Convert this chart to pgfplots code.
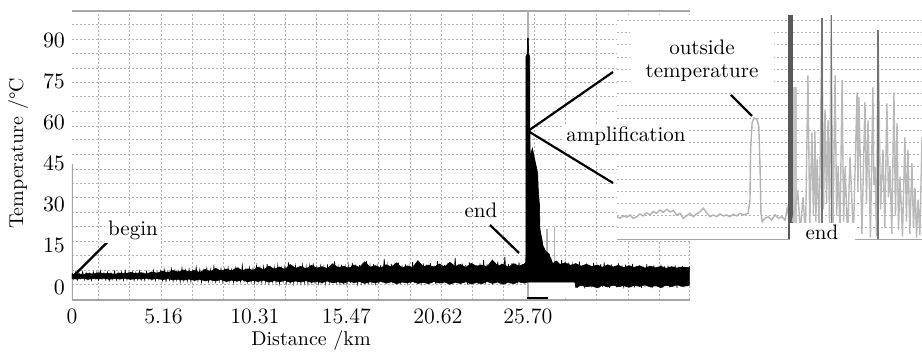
\documentclass[border=0pt]{standalone}
\usepackage{pgfplots}
\pgfplotsset{compat=1.18}
\begin{document}
\begin{tikzpicture}
\begin{axis}[
  at={(36pt,26pt)}, anchor=south west,
  scale only axis, width=309.15pt, height=144.5pt,
  xmin=0, xmax=34.853, ymin=-4.74, ymax=100.6,
  xtick={0,5.16,10.31,15.47,20.62,25.70},
  xticklabels={0,5.16,10.31,15.47,20.62,25.70},
  ytick={0,15,30,45,60,75,90},
  minor xtick={1.511,3.265,5.02,6.77,8.53,10.29,12.04,13.79,15.55,17.30,19.06,20.81,22.57,24.32,26.08,27.83,29.59,31.34,33.10,34.82},
  minor ytick={95.7,90.4,85.2,79.7,74.6,69.3,64.1,58.6,53.6,48.4,43.0,37.8,32.5,27.2,21.9,16.7,11.4,6.2,1.0},
  xminorgrids=true, yminorgrids=true,
  xmajorgrids=false, ymajorgrids=false,
  major tick length=0pt, minor tick length=0pt,
  minor grid style={gray!60, line width=0.45pt, dash pattern=on 1.2pt off 0.8pt},
  separate axis lines,
  x axis line style={gray!70, line width=0.75pt},
  y axis line style={draw=none},
  tick label style={font=\fontsize{11}{13}\selectfont},
  xticklabel style={yshift=-1pt},
  xlabel={Distance /km}, ylabel={Temperature /\textdegree C},
  label style={font=\fontsize{10}{12}\selectfont},
  xlabel style={at={(axis description cs:0.3866,-0.141)}, anchor=center, inner sep=0pt},
  ylabel style={at={(axis description cs:-0.087,0.507)}, anchor=center},
]
\draw[gray!70, line width=0.75pt] (axis cs:0,-4.74) -- (axis cs:0,45);
% white gap under the band after the end point
\addplot[fill=white, draw=none] coordinates {(25.7,-3.4)(28.35,-3.4)(28.35,1.8)(25.7,1.8)(25.7,-3.4)};
% marker line at 25.70 km
\addplot[gray!60, line width=1.2pt] coordinates {(25.70,-4.74)(25.70,100.6)};
% grey spikes after the end point
\addplot[gray!60, line width=1.2pt] coordinates {(25.90,2)(25.90,50)};
\addplot[gray!60, line width=0.8pt] coordinates {(26.78,5)(26.78,21)};
\addplot[gray!60, line width=0.8pt] coordinates {(27.20,5)(27.20,22)};
% core of the measured temperature band
\addplot[fill=black, draw=black, line width=0.3pt] coordinates {
(0,4.6)(0.3,4.9)(0.6,4.5)(0.9,5.0)(1.2,4.7)(1.5,5.2)(1.8,4.8)(2.1,5.0)(2.4,4.6)(2.7,5.1)(3.0,4.8)(3.3,5.3)(3.6,4.9)(3.9,5.2)(4.2,4.7)(4.5,5.5)(4.8,5.0)(5.1,5.8)(5.4,5.2)(5.7,6.0)(6.0,5.4)(6.3,6.2)(6.6,5.5)(6.9,6.0)(7.2,5.3)(7.5,6.4)(7.8,5.6)(8.1,6.8)(8.4,5.8)(8.7,6.5)(9.0,5.9)(9.3,7.0)(9.6,6.0)(9.9,6.6)(10.2,6.1)(10.5,7.2)(10.8,6.3)(11.1,7.6)(11.4,6.5)(11.7,7.3)(12.0,6.4)(12.3,8.2)(12.6,6.8)(12.9,7.5)(13.2,6.6)(13.5,7.9)(13.8,6.9)(14.1,7.4)(14.4,6.7)(14.7,8.5)(15.0,7.0)(15.3,7.6)(15.6,6.8)(15.9,8.0)(16.2,7.1)(16.5,9.2)(16.8,7.2)(17.1,7.8)(17.4,6.9)(17.7,8.1)(18.0,7.3)(18.3,8.8)(18.6,7.0)(18.9,7.7)(19.2,7.1)(19.5,9.6)(19.8,7.4)(20.1,8.0)(20.4,7.2)(20.7,8.4)(21.0,7.3)(21.3,9.0)(21.6,7.5)(21.9,8.2)(22.2,7.1)(22.5,8.6)(22.8,7.6)(23.1,8.0)(23.4,7.4)(23.7,9.8)(24.0,7.7)(24.3,8.3)(24.6,7.2)(24.9,8.5)(25.2,7.6)(25.5,8.4)
(25.58,9)(25.59,84)(25.66,85)(25.68,90.7)(25.72,90.7)(25.74,85)(25.80,84)(25.82,47)(25.95,50.6)(26.1,46)(26.25,41.5)(26.28,36)(26.35,30)(26.38,21)(26.5,17)(26.55,15)(26.7,13)(26.9,12)(27.0,10)(27.1,8.5)(27.3,9.5)(27.5,8.2)(27.8,8.8)(28.1,7.9)(28.4,8.5)(28.7,7.6)(29.0,8.3)(29.3,7.4)(29.6,8.0)(29.9,7.2)(30.2,8.1)(30.5,7.3)(30.8,7.9)(31.1,7.0)(31.4,7.8)(31.7,7.1)(32.0,7.7)(32.3,6.9)(32.6,7.6)(32.9,7.0)(33.2,7.5)(33.5,6.8)(33.8,7.4)(34.1,6.9)(34.4,7.3)(34.8,7.0)
(34.8,0.6)(34.4,0.2)(34.1,0.8)(33.8,0.1)(33.5,0.7)(33.2,-0.2)(32.9,0.5)(32.6,0.0)(32.3,0.8)(32.0,0.2)(31.7,0.6)(31.4,-0.1)(31.1,0.5)(30.8,0.1)(30.5,0.7)(30.2,0.0)(29.9,0.6)(29.6,-0.3)(29.3,0.4)(29.0,0.1)(28.7,0.6)(28.4,-0.2)(28.35,1.8)(25.7,1.8)
(25.5,1.4)(25.2,1.9)(24.9,1.2)(24.6,1.7)(24.3,1.0)(24.0,1.8)(23.7,1.3)(23.4,2.0)(23.1,1.2)(22.8,1.6)(22.5,1.1)(22.2,1.9)(21.9,1.3)(21.6,1.7)(21.3,1.0)(21.0,1.8)(20.7,1.4)(20.4,2.0)(20.1,1.2)(19.8,1.7)(19.5,1.3)(19.2,2.0)(18.9,1.5)(18.6,1.8)(18.3,1.2)(18.0,1.9)(17.7,1.4)(17.4,2.1)(17.1,1.5)(16.8,1.9)(16.5,1.3)(16.2,2.0)(15.9,1.6)(15.6,2.1)(15.3,1.4)(15.0,1.9)(14.7,1.5)(14.4,2.2)(14.1,1.6)(13.8,2.0)(13.5,1.7)(13.2,2.3)(12.9,1.8)(12.6,2.2)(12.3,1.7)(12.0,2.4)(11.7,1.9)(11.4,2.3)(11.1,1.8)(10.8,2.5)(10.5,2.0)(10.2,2.4)(9.9,1.9)(9.6,2.6)(9.3,2.1)(9.0,2.5)(8.7,2.0)(8.4,2.7)(8.1,2.2)(7.8,2.6)(7.5,2.3)(7.2,2.8)(6.9,2.4)(6.6,2.9)(6.3,2.5)(6.0,2.8)(5.7,2.6)(5.4,3.0)(5.1,2.7)(4.8,3.1)(4.5,2.8)(4.2,3.2)(3.9,2.9)(3.6,3.1)(3.3,2.8)(3.0,3.2)(2.7,2.9)(2.4,3.1)(2.1,2.8)(1.8,3.2)(1.5,2.9)(1.2,3.1)(0.9,2.8)(0.6,3.2)(0.3,2.9)(0,3.0)(0,4.6)};
% raw noisy trace before the end point
\addplot[black, line width=0.35pt] coordinates {
(0.0,5.1)(0.1,2.9)(0.2,5.4)(0.3,2.6)(0.4,4.9)(0.5,3.0)(0.6,5.6)(0.7,2.7)(0.8,5.2)(0.9,2.8)(1.0,5.0)(1.1,2.5)(1.2,5.5)(1.3,3.0)(1.4,5.3)(1.5,2.6)(1.6,5.8)(1.7,2.9)(1.8,5.1)(1.9,2.7)(2.0,5.4)(2.1,2.4)(2.2,5.0)(2.3,2.8)(2.4,5.7)(2.5,2.6)(2.6,5.2)(2.7,3.0)(2.8,5.5)(2.9,2.5)(3.0,5.9)(3.1,2.7)(3.2,5.1)(3.3,2.9)(3.4,5.4)(3.5,2.4)(3.6,5.3)(3.7,2.8)(3.8,5.8)(3.9,2.6)(4.0,5.0)(4.1,2.5)(4.2,5.6)(4.3,2.9)(4.4,5.2)(4.5,2.7)(4.6,6.0)(4.7,2.4)(4.8,5.4)(4.9,2.8)
(5.0,5.8)(5.1,2.4)(5.2,6.3)(5.3,2.1)(5.4,5.6)(5.5,2.6)(5.6,6.6)(5.7,2.2)(5.8,6.0)(5.9,2.5)(6.0,5.7)(6.1,1.9)(6.2,6.9)(6.3,2.4)(6.4,6.1)(6.5,2.2)(6.6,6.4)(6.7,2.0)(6.8,5.9)(6.9,2.6)(7.0,7.2)(7.1,2.3)(7.2,6.2)(7.3,1.8)(7.4,6.0)(7.5,2.5)(7.6,6.8)(7.7,2.1)(7.8,6.3)(7.9,2.4)(8.0,7.5)(8.1,2.0)(8.2,6.1)(8.3,2.3)(8.4,6.6)(8.5,1.9)(8.6,6.4)(8.7,2.5)(8.8,7.0)(8.9,2.2)(9.0,6.2)(9.1,1.8)(9.2,6.9)(9.3,2.4)(9.4,6.5)(9.5,2.1)(9.6,7.8)(9.7,2.3)(9.8,6.3)(9.9,1.9)
(10.0,7.0)(10.1,1.9)(10.2,6.6)(10.3,1.6)(10.4,7.6)(10.5,2.2)(10.6,6.8)(10.7,1.7)(10.8,7.3)(10.9,2.0)(11.0,8.4)(11.1,1.5)(11.2,6.9)(11.3,2.1)(11.4,7.2)(11.5,1.8)(11.6,7.8)(11.7,1.4)(11.8,6.7)(11.9,2.0)(12.0,7.4)(12.1,1.7)(12.2,9.0)(12.3,1.9)(12.4,7.1)(12.5,1.5)(12.6,7.6)(12.7,2.1)(12.8,6.9)(12.9,1.6)(13.0,8.0)(13.1,1.8)(13.2,7.3)(13.3,1.3)(13.4,7.7)(13.5,2.0)(13.6,8.6)(13.7,1.7)(13.8,7.0)(13.9,1.5)(14.0,7.5)(14.1,1.9)(14.2,7.2)(14.3,1.4)(14.4,8.2)(14.5,1.8)(14.6,7.4)(14.7,1.6)(14.8,9.3)(14.9,2.0)
(15.0,7.5)(15.1,1.5)(15.2,8.1)(15.3,1.8)(15.4,7.3)(15.5,1.2)(15.6,7.8)(15.7,1.6)(15.8,8.8)(15.9,1.9)(16.0,7.4)(16.1,1.3)(16.2,8.0)(16.3,1.7)(16.4,7.6)(16.5,1.4)(16.6,9.5)(16.7,1.1)(16.8,7.7)(16.9,1.8)(17.0,8.3)(17.1,1.5)(17.2,7.5)(17.3,1.3)(17.4,8.0)(17.5,1.7)(17.6,10.2)(17.7,1.2)(17.8,7.8)(17.9,1.6)(18.0,8.4)(18.1,1.4)(18.2,7.6)(18.3,1.9)(18.4,8.9)(18.5,1.1)(18.6,7.9)(18.7,1.5)(18.8,8.2)(18.9,1.7)(19.0,7.5)(19.1,1.3)(19.2,9.1)(19.3,1.6)(19.4,8.0)(19.5,1.2)(19.6,7.7)(19.7,1.8)(19.8,8.6)(19.9,1.4)
(20.0,8.1)(20.1,1.3)(20.2,8.7)(20.3,1.6)(20.4,7.8)(20.5,1.1)(20.6,9.4)(20.7,1.5)(20.8,8.2)(20.9,1.2)(21.0,8.0)(21.1,1.7)(21.2,8.8)(21.3,1.0)(21.4,7.9)(21.5,1.4)(21.6,10.6)(21.7,1.6)(21.8,8.3)(21.9,1.2)(22.0,8.5)(22.1,1.5)(22.2,8.0)(22.3,0.9)(22.4,9.0)(22.5,1.3)(22.6,8.4)(22.7,1.6)(22.8,7.9)(22.9,1.1)(23.0,8.6)(23.1,1.4)(23.2,9.8)(23.3,1.2)(23.4,8.2)(23.5,1.7)(23.6,8.4)(23.7,1.0)(23.8,8.0)(23.9,1.5)(24.0,9.2)(24.1,1.3)(24.2,8.5)(24.3,1.1)(24.4,11.0)(24.5,1.6)(24.6,8.3)(24.7,1.2)(24.8,8.7)(24.9,1.4)(25.0,8.4)(25.1,1.3)(25.2,9.0)(25.3,1.5)(25.4,8.2)(25.5,1.6)};
% raw noisy trace after the end point
\addplot[black, line width=0.35pt] coordinates {
(27.0,10.5)(27.1,1.9)(27.2,9.2)(27.3,2.0)(27.4,8.6)(27.5,1.9)(27.6,9.8)(27.7,2.1)(27.8,8.4)(27.9,1.9)(28.0,8.9)(28.1,2.0)(28.2,8.1)(28.3,1.9)(28.4,8.7)(28.5,-0.2)(28.6,9.3)(28.7,0.4)(28.8,7.9)(28.9,-0.5)(29.0,8.5)(29.1,0.2)(29.2,8.0)(29.3,-0.1)(29.4,8.8)(29.5,0.5)(29.6,7.7)(29.7,-0.4)(29.8,8.3)(29.9,0.1)(30.0,9.0)(30.1,0.3)(30.2,7.8)(30.3,-0.3)(30.4,8.2)(30.5,0.4)(30.6,7.6)(30.7,-0.1)(30.8,8.6)(30.9,0.2)(31.0,7.9)(31.1,-0.5)(31.2,8.1)(31.3,0.3)(31.4,7.5)(31.5,0.0)(31.6,8.4)(31.7,-0.2)(31.8,7.7)(31.9,0.5)(32.0,8.0)(32.1,-0.3)(32.2,7.4)(32.3,0.1)(32.4,8.3)(32.5,0.4)(32.6,7.6)(32.7,-0.4)(32.8,7.9)(32.9,0.2)(33.0,7.3)(33.1,0.0)(33.2,8.1)(33.3,-0.2)(33.4,7.5)(33.5,0.3)(33.6,7.8)(33.7,-0.1)(33.8,7.2)(33.9,0.4)(34.0,7.9)(34.1,-0.3)(34.2,7.4)(34.3,0.2)(34.4,7.7)(34.5,0.0)(34.6,7.1)(34.7,0.3)(34.8,7.6)};
% dip below the band at the end point
\addplot[black, line width=1.2pt] coordinates {(25.65,-4.0)(26.83,-4.0)};
\end{axis}

% inset (amplification)
\begin{axis}[
  at={(308.5pt,56pt)}, anchor=south west,
  scale only axis, width=152.5pt, height=112.5pt,
  xmin=0, xmax=100, ymin=0, ymax=18.44,
  axis background/.style={fill=white},
  axis line style={draw=none},
  xtick=\empty, ytick={1,2,...,18}, yticklabels={},
  ymajorgrids=true, major tick length=0pt,
  major grid style={gray!60, line width=0.45pt, dash pattern=on 1.2pt off 0.8pt},
]
\addplot[gray!60, line width=0.7pt] coordinates {
(0,1.91)(1.0,1.78)(2.1,1.97)(3.2,1.86)(4.3,2.05)(5.4,1.78)(6.5,1.91)(7.5,2.13)(8.6,1.97)(9.7,2.24)(10.8,2.05)(11.9,2.32)(13.0,2.19)(14.1,2.46)(15.2,2.27)(16.3,2.51)(17.4,2.30)(18.5,2.40)(19.6,2.05)(20.7,2.19)(21.7,1.78)(22.8,1.97)(23.9,2.19)(25.0,1.91)(26.1,2.13)(27.2,2.32)(28.3,2.60)(29.4,2.24)(30.5,1.91)(31.6,2.05)(32.7,1.91)(33.8,2.13)(34.9,1.97)(35.9,2.05)(37.0,1.91)(38.1,2.10)(39.2,1.97)(40.3,2.19)(41.4,2.05)(43.0,2.19)(43.6,3.28)(43.8,7.4)(44.3,9.6)(44.9,10.0)(45.8,9.9)(46.5,9.3)(46.9,6.0)(47.2,2.19)(47.6,1.5)(48.5,1.78)(49.6,1.91)(50.7,1.64)(51.8,2.05)(52.9,1.78)(54.0,1.91)(55.1,1.64)(55.8,2.6)(56.3,1.91)};
\addplot[gray!45, line width=2pt] coordinates {(58.4,1)(58.4,12.5)};
\addplot[black!65, line width=2.5pt] coordinates {(56.9,0)(56.9,18.4)};
\addplot[gray!55, line width=0.7pt] coordinates {
(57.5,1.5)(59.3,3.85)(60.1,0.8)(61.0,3.5)(61.8,0.3)(62.6,13.5)(63.2,1.2)(63.9,8.8)(64.4,2.0)(64.9,8.9)(65.2,1.5)(65.6,6.6)(66.3,0.5)(67.2,18.2)(67.7,2.5)(68.2,10.7)(68.7,3.0)(69.2,9.8)(69.7,1.0)(70.2,18.4)(70.8,0.8)(71.5,13.5)(72.0,2.0)(72.5,6.0)(73.1,0.4)(73.8,13.1)(74.3,1.5)(74.8,6.0)(75.6,0.2)(76.4,6.8)(77.5,0.3)(78.7,12.1)(79.0,4.0)(79.3,11.7)(80.3,0.5)(81.3,11.3)(81.8,3.0)(82.3,9.8)(83.1,0.2)(83.9,12.5)(84.2,4.5)(84.6,6.0)(85.1,0.3)(85.6,17.2)(86.4,2.5)(87.2,7.4)(87.8,1.0)(88.5,11.2)(89.0,3.5)(89.5,6.0)(90.1,0.5)(90.8,12.1)(91.3,2.0)(91.8,9.6)(92.3,0.8)(92.8,5.2)(93.6,0.3)(94.4,8.4)(94.9,1.5)(95.4,7.4)(96.0,0.5)(96.7,6.3)(97.2,1.0)(97.7,4.3)(98.2,0.2)(98.7,3.3)(99.3,0.4)(100,8.4)};
\addplot[black!55, line width=0.6pt] coordinates {(67.2,0)(67.2,18.2)};
\addplot[black!55, line width=0.6pt] coordinates {(70.2,0)(70.2,18.4)};
\addplot[black!55, line width=0.6pt] coordinates {(85.6,0)(85.6,17.2)};
\draw[gray!70, line width=0.75pt] (axis cs:0,0) -- (axis cs:100,0);
\end{axis}

% annotations (pixel-based placement)
\begin{scope}[shift={(0pt,176pt)}, x=0.5pt, y=-0.5pt]
\tikzset{ann/.style={font=\fontsize{10.5}{11.5}\selectfont, fill=white, inner sep=1.5pt}}
\draw[line width=1.1pt] (73,276.5) -- (107,242.5);
\node[ann] at (133,230.5) {begin};
\draw[line width=1.1pt] (490,225) -- (519,253);
\node[ann] at (481,210) {end};
\draw[line width=1.1pt] (613,72) -- (528,131) -- (613,183);
\node[ann] at (626,136) {amplification};
\node[ann, align=center, inner xsep=8pt, inner ysep=5pt] at (702,60.5) {outside\\temperature};
\draw[line width=1.1pt] (731,95) -- (752,116);
\node[ann, minimum width=32.5pt, minimum height=8.5pt, inner sep=0pt] at (822,232) {end};
\end{scope}
\pgfresetboundingbox
\useasboundingbox (0,0) rectangle (461pt,176pt);
\end{tikzpicture}
\end{document}
